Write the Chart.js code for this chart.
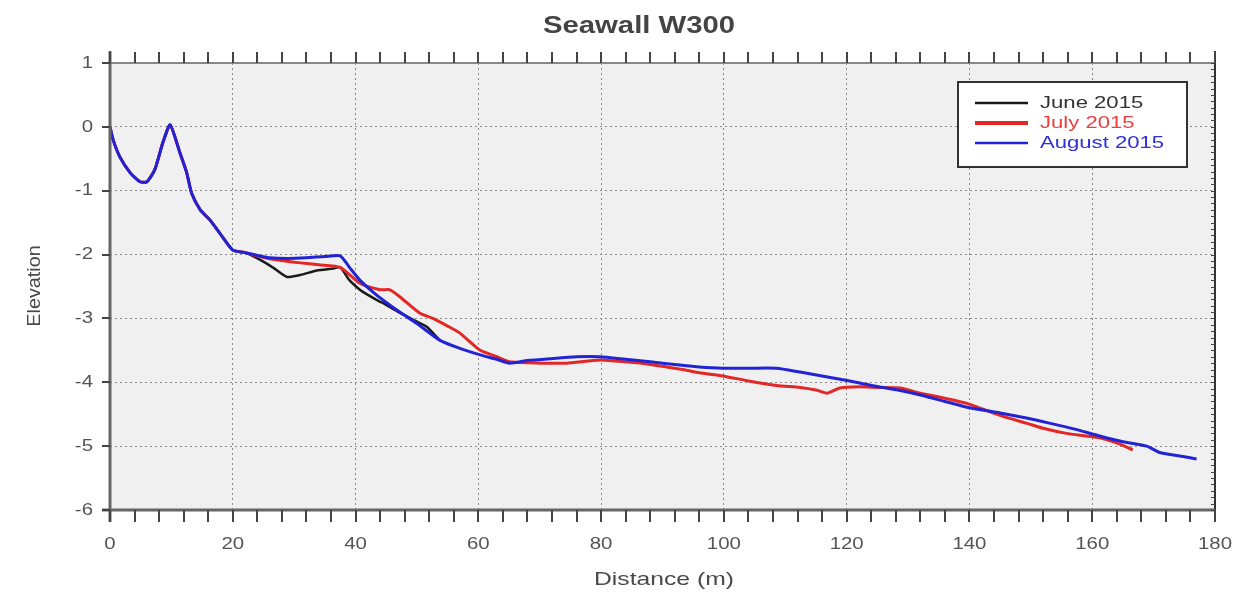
<!DOCTYPE html>
<html>
<head>
<meta charset="utf-8">
<script src="https://cdn.jsdelivr.net/npm/chart.js@4"></script>
<style>
  body { margin: 0; background: #fff; }
  #wrap { width: 1257px; height: 595px; position: relative; }
</style>
</head>
<body>
<div id="wrap"><canvas id="chartPerfil"></canvas></div>
<script>
// Perfil do paredão - Seawall W300
const seawallDist = [0, 0.5, 1.6, 3.3, 4.9, 6, 7.3, 8.6, 9.8, 11.4, 12.5, 13.3, 14.7, 16.3, 18, 20];
const seawallElev = [0, -0.2, -0.47, -0.72, -0.86, -0.86, -0.67, -0.25, 0.03, -0.41, -0.72, -1.04, -1.3, -1.46, -1.68, -1.93];

const juneDist = [22, 24.4, 26.5, 28.8, 31, 33.7, 36.3, 37.5, 39, 40.7, 41.8, 44, 44.5, 47, 50, 51.6, 53.7];
const juneElev = [-1.97, -2.08, -2.2, -2.35, -2.32, -2.25, -2.22, -2.2, -2.4, -2.55, -2.62, -2.74, -2.76, -2.9, -3.05, -3.13, -3.34];

const julyDist = [22, 24.4, 27, 31, 34, 37.5, 40.7, 44, 45.5, 47.2, 50.5, 52.6, 55, 57, 60.3, 63, 65.1, 70, 74.4, 79.8, 84, 88, 93.3, 96, 99.8, 104, 108.6, 112.4, 115, 116.8, 118.9, 122, 125, 128.7, 132, 136, 139.6, 143, 146, 149.3, 152, 155.8, 159, 161.2, 164, 166.6];
const julyElev = [-1.97, -2.03, -2.08, -2.13, -2.16, -2.2, -2.45, -2.55, -2.55, -2.66, -2.92, -3.0, -3.12, -3.23, -3.5, -3.6, -3.68, -3.7, -3.7, -3.65, -3.68, -3.72, -3.8, -3.85, -3.9, -3.98, -4.05, -4.08, -4.12, -4.17, -4.09, -4.07, -4.08, -4.09, -4.17, -4.25, -4.33, -4.45, -4.55, -4.64, -4.72, -4.8, -4.84, -4.87, -4.95, -5.06];

const augustDist = [22, 24.4, 26, 29, 32, 35, 37.5, 39, 40.7, 43, 45, 47.2, 50, 53.7, 57, 60.3, 63, 65.1, 68, 71.7, 76, 79.8, 84, 88, 92.8, 96, 99.8, 104, 108.6, 112.4, 116, 120.5, 124, 128.7, 132, 136, 140, 145, 149.3, 153, 157, 161.2, 165, 168.9, 171, 174, 177];
const augustElev = [-1.97, -2.02, -2.05, -2.06, -2.05, -2.03, -2.02, -2.2, -2.4, -2.6, -2.75, -2.9, -3.08, -3.34, -3.47, -3.57, -3.64, -3.7, -3.66, -3.63, -3.6, -3.6, -3.64, -3.68, -3.73, -3.76, -3.78, -3.78, -3.78, -3.84, -3.9, -3.98, -4.05, -4.13, -4.2, -4.3, -4.4, -4.48, -4.56, -4.64, -4.73, -4.84, -4.93, -5.0, -5.1, -5.15, -5.2];

const seriesNames = ['June 2015', 'July 2015', 'August 2015'];
const seriesColors = ['#1a1a1a', '#e32626', '#2323d6'];
const xTicks = [0, 20, 40, 60, 80, 100, 120, 140, 160, 180];
const yTicks = [1, 0, -1, -2, -3, -4, -5, -6];

function pontos(dist, elev) {
  return dist.map((d, i) => ({ x: d, y: elev[i] }));
}

const FONTE = '"Liberation Sans", Arial, sans-serif';

// texto esticado na horizontal (o original é mais largo)
function texto(ctx, s, x, y, font, sx, align) {
  ctx.save();
  ctx.font = font;
  ctx.textBaseline = 'middle';
  ctx.textAlign = 'left';
  const w = ctx.measureText(s).width * sx;
  let x0 = x;
  if (align === 'center') x0 = x - w / 2;
  else if (align === 'right') x0 = x - w;
  ctx.translate(x0, y);
  ctx.scale(sx, 1);
  ctx.fillText(s, 0, 0);
  ctx.restore();
}

const moldura = {
  id: 'moldura',
  beforeDraw(chart) {
    const { ctx, chartArea: a } = chart;
    ctx.save();
    ctx.fillStyle = '#fff';
    ctx.fillRect(0, 0, chart.width, chart.height);
    ctx.fillStyle = '#f0f0f0';
    ctx.fillRect(a.left, a.top, a.right - a.left, a.bottom - a.top);
    ctx.restore();
  },
  afterDraw(chart) {
    const { ctx, chartArea: a, scales } = chart;
    const x = scales.x, y = scales.y;
    ctx.save();
    // bordas
    ctx.strokeStyle = '#888';
    ctx.lineWidth = 2;
    ctx.beginPath(); ctx.moveTo(a.left, a.top); ctx.lineTo(a.right, a.top); ctx.stroke();
    ctx.strokeStyle = '#333';
    ctx.beginPath(); ctx.moveTo(a.right, a.top - 12); ctx.lineTo(a.right, a.bottom); ctx.stroke();
    ctx.strokeStyle = '#666';
    ctx.lineWidth = 3;
    ctx.beginPath(); ctx.moveTo(a.left, a.top - 12); ctx.lineTo(a.left, a.bottom + 12); ctx.stroke();
    ctx.beginPath(); ctx.moveTo(a.left - 8, a.bottom); ctx.lineTo(a.right, a.bottom); ctx.stroke();

    // marcas do eixo x (em cima e embaixo)
    ctx.strokeStyle = '#444';
    ctx.lineWidth = 2;
    for (let v = 0; v <= 180; v += 4) {
      const px = Math.round(x.getPixelForValue(v));
      ctx.beginPath(); ctx.moveTo(px, a.bottom); ctx.lineTo(px, a.bottom + 12); ctx.stroke();
      ctx.beginPath(); ctx.moveTo(px, a.top); ctx.lineTo(px, a.top - 11); ctx.stroke();
    }
    // marcas do eixo y
    yTicks.forEach(v => {
      const py = Math.round(y.getPixelForValue(v));
      ctx.beginPath(); ctx.moveTo(a.left - 8, py); ctx.lineTo(a.left, py); ctx.stroke();
    });
    ctx.lineWidth = 1;
    for (let k = -60; k <= 10; k++) {
      const py = Math.round(y.getPixelForValue(k / 10)) + 0.5;
      ctx.beginPath(); ctx.moveTo(a.right - 4, py); ctx.lineTo(a.right, py); ctx.stroke();
    }
    ctx.restore();

    // rótulos dos eixos
    ctx.save();
    ctx.fillStyle = '#555';
    const fTick = '17px ' + FONTE;
    xTicks.forEach(v => texto(ctx, String(v), x.getPixelForValue(v), 544, fTick, 1.2, 'center'));
    yTicks.forEach(v => texto(ctx, String(v), 93, y.getPixelForValue(v), fTick, 1.2, 'right'));

    // títulos
    ctx.fillStyle = '#444';
    texto(ctx, 'Seawall W300', 639, 26, 'bold 24px ' + FONTE, 1.22, 'center');
    ctx.fillStyle = '#4a4a4a';
    texto(ctx, 'Distance (m)', 664, 580, '19px ' + FONTE, 1.3, 'center');
    ctx.translate(35, 286);
    ctx.rotate(-Math.PI / 2);
    texto(ctx, 'Elevation', 0, 0, '18px ' + FONTE, 1.1, 'center');
    ctx.restore();

    // legenda
    ctx.save();
    ctx.fillStyle = '#fff';
    ctx.fillRect(958, 82, 229, 85);
    ctx.strokeStyle = '#333';
    ctx.lineWidth = 2;
    ctx.strokeRect(958, 82, 229, 85);
    const larg = [2.5, 4, 2.5];
    const corTexto = ['#333', '#e84040', '#3030d8'];
    seriesNames.forEach((nome, i) => {
      const ly = 103 + i * 20;
      ctx.strokeStyle = seriesColors[i];
      ctx.lineWidth = larg[i];
      ctx.beginPath(); ctx.moveTo(975, ly); ctx.lineTo(1028, ly); ctx.stroke();
      ctx.fillStyle = corTexto[i];
      texto(ctx, nome, 1040, ly, '17px ' + FONTE, 1.3, 'left');
    });
    ctx.restore();
  }
};

new Chart(document.getElementById('chartPerfil'), {
  type: 'scatter',
  data: {
    datasets: [{
      label: seriesNames[0],
      data: pontos(seawallDist.concat(juneDist), seawallElev.concat(juneElev)),
      borderColor: seriesColors[0],
      borderWidth: 2.5,
      order: 3
    }, {
      label: seriesNames[1],
      data: pontos(seawallDist.concat(julyDist), seawallElev.concat(julyElev)),
      borderColor: seriesColors[1],
      borderWidth: 3,
      order: 2
    }, {
      label: seriesNames[2],
      data: pontos(seawallDist.concat(augustDist), seawallElev.concat(augustElev)),
      borderColor: seriesColors[2],
      borderWidth: 3,
      order: 1
    }]
  },
  options: {
    responsive: true,
    maintainAspectRatio: false,
    animation: false,
    showLine: true,
    elements: { point: { radius: 0 }, line: { tension: 0.2 } },
    layout: { padding: { top: 63, right: 42, left: 0, bottom: 0 } },
    plugins: {
      legend: { display: false },
      title: { display: false },
      tooltip: { enabled: false }
    },
    scales: {
      x: {
        type: 'linear',
        min: 0,
        max: 180,
        afterFit(scale) { scale.height = 85; },
        afterBuildTicks(scale) { scale.ticks = xTicks.map(v => ({ value: v })); },
        ticks: { display: false },
        grid: { drawTicks: false, color: '#8a8a8a', lineWidth: 1 },
        border: { display: false, dash: [2, 3] }
      },
      y: {
        min: -6,
        max: 1,
        afterFit(scale) { scale.width = 110; },
        afterBuildTicks(scale) { scale.ticks = yTicks.map(v => ({ value: v })); },
        ticks: { display: false },
        grid: { drawTicks: false, color: '#8a8a8a', lineWidth: 1 },
        border: { display: false, dash: [2, 3] }
      }
    }
  },
  plugins: [moldura]
});
</script>
</body>
</html>
